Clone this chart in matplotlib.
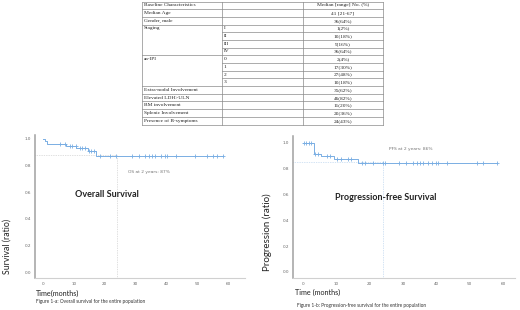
import matplotlib.pyplot as plt
import numpy as np

W, H = 520, 310

# baseline table
char_col = ["Baseline Characteristics", "Median Age", "Gender, male", "Staging", "", "", "",
            "aa-IPI", "", "", "", "Extra-nodal Involvement", "Elevated LDH>ULN",
            "BM involvement", "Splenic Involvement", "Presence of B-symptoms"]
sub_col = ["", "", "", "I", "II", "III", "IV", "0", "1", "2", "3", "", "", "", "", ""]
val_col = ["Median [range] No. (%)", "41 [21-67]", "36(64%)", "1(2%)", "10(18%)", "9(16%)",
           "36(64%)", "2(4%)", "17(30%)", "27(48%)", "10(18%)", "35(62%)", "46(82%)",
           "11(20%)", "20(36%)", "24(43%)"]

# overall survival: step times (months) and survival ratio, censored times
os_time = [0, 0.5, 1.2, 7.6, 10.8, 14.5, 17.3]
os_surv = [1.0, 0.982, 0.964, 0.946, 0.929, 0.911, 0.874]
os_cens = [5.4, 7.0, 8.6, 9.5, 10.6, 11.9, 12.8, 13.5, 14.9, 15.7, 16.4, 18.4, 21.6, 23.8,
           29.0, 31.1, 33.0, 34.4, 35.5, 36.2, 38.4, 39.5, 40.2, 43.2, 49.2, 53.2, 55.1,
           56.4, 58.4]
os_2yr = 0.877

# progression-free survival
pfs_time = [0, 3.3, 5.5, 9.2, 16.5]
pfs_surv = [1.0, 0.918, 0.898, 0.872, 0.846]
pfs_cens = [0.3, 1.0, 1.7, 2.3, 3.5, 4.5, 7.3, 8.0, 10.2, 11.5, 13.5, 14.5, 17.6, 18.6,
            21.1, 23.9, 24.6, 28.9, 30.9, 32.9, 34.1, 35.1, 36.1, 37.6, 38.6, 39.8, 40.4,
            43.1, 52.2, 54.0, 58.2]
pfs_2yr = 0.853

BLUE = "#7aaee3"

fig = plt.figure(figsize=(W / 100, H / 100), dpi=100)


def px_axes(l, t, r, b):
    return fig.add_axes([l / W, 1 - b / H, (r - l) / W, (b - t) / H])


def km(ax, times, surv, cens, mark, xlim, ylim, mark_color):
    times = np.array(times)
    surv = np.array(surv)
    cens = np.array(cens)
    end = cens.max()
    ax.step(np.append(times, end), np.append(surv, surv[-1]), where="post",
            color=BLUE, lw=0.7, zorder=3)
    idx = np.searchsorted(times, cens, side="right") - 1
    ax.plot(cens, surv[idx], "+", color=BLUE, ms=2.6, mew=0.6, zorder=4)
    ax.plot([xlim[0], 24], [mark, mark], ls=(0, (1, 1.5)), color=mark_color, lw=0.5)
    ax.plot([24, 24], [ylim[0], mark], ls=(0, (1, 1.5)), color=mark_color, lw=0.5)
    ax.set_xlim(*xlim)
    ax.set_ylim(*ylim)
    ax.set_xticks(range(0, 61, 10))
    ax.set_yticks([0, 0.2, 0.4, 0.6, 0.8, 1.0])
    ax.set_yticklabels(["0.0", "0.2", "0.4", "0.6", "0.8", "1.0"])
    ax.tick_params(length=0, labelsize=3, colors="#666", pad=3)
    ax.spines["top"].set_visible(False)
    ax.spines["right"].set_visible(False)
    ax.spines["left"].set_color("#a0a0a0")
    ax.spines["left"].set_linewidth(1.1)
    ax.spines["bottom"].set_color("#d0d0d0")
    ax.spines["bottom"].set_linewidth(0.8)
    ax.patch.set_alpha(0)


# left plot: overall survival
ax1 = px_axes(35, 135, 245, 278)
km(ax1, os_time, os_surv, os_cens, os_2yr, (-2.6, 65.5), (-0.045, 1.03), "#c0c0c0")
ax1.text(27.6, 0.75, "OS at 2 years: 87%", fontsize=3.2, color="#777", va="center")
ax1.text(10.4, 0.586, "Overall Survival", fontsize=6.5, fontweight="bold",
         family="Lato", color="#222", va="center")

# right plot: progression-free survival
ax2 = px_axes(293, 136, 515, 278)
km(ax2, pfs_time, pfs_surv, pfs_cens, pfs_2yr, (-3.0, 63.6), (-0.047, 1.054), "#a8c8ea")
ax2.text(25.8, 0.953, "PFS at 2 years: 86%", fontsize=3.2, color="#777", va="center")
ax2.text(9.6, 0.58, "Progression-free Survival", fontsize=6.5, fontweight="bold",
         family="Lato", color="#222", va="center")

# overlay in pixel coordinates for the table and labels
ov = fig.add_axes([0, 0, 1, 1])
ov.set_xlim(0, W)
ov.set_ylim(H, 0)
ov.axis("off")
ov.patch.set_alpha(0)

cols = [142, 222, 303, 383]
top, bot = 1.5, 124.5
n = len(char_col)
rh = (bot - top) / n
lc = "#8a8a8a"
for i in range(n + 1):
    y = top + i * rh
    if i == 0 or i == n or char_col[i] != "":
        ov.plot([cols[0], cols[3]], [y, y], color=lc, lw=0.5)
    else:
        ov.plot([cols[1], cols[3]], [y, y], color=lc, lw=0.5)
for x in cols:
    ov.plot([x, x], [top, bot], color=lc, lw=0.5)
for i in range(n):
    yc = top + (i + 0.5) * rh
    ov.text(cols[0] + 1.5, yc, char_col[i], fontsize=3.9, family="Liberation Serif",
            va="center", ha="left", color="#222")
    ov.text(cols[1] + 1.5, yc, sub_col[i], fontsize=3.9, family="Liberation Serif",
            va="center", ha="left", color="#222")
    ov.text((cols[2] + cols[3]) / 2, yc, val_col[i], fontsize=3.9,
            family="Liberation Serif", va="center", ha="center", color="#222")

ov.text(7, 246, "Survival (ratio)", rotation=90, fontsize=6.3, family="Lato",
        va="center", ha="center", color="#222")
ov.text(267, 232, "Progression (ratio)", rotation=90, fontsize=7, family="Lato",
        va="center", ha="center", color="#222")
ov.text(36, 293, "Time(months)", fontsize=5.2, family="Lato", va="center", color="#222")
ov.text(295, 292, "Time (months)", fontsize=5.2, family="Lato", va="center", color="#222")
ov.text(36, 302, "Figure 1-a: Overall survival for the entire population", fontsize=3.4,
        family="Lato", va="center", color="#333")
ov.text(297, 306, "Figure 1-b: Progression-free survival for the entire population",
        fontsize=3.4, family="Lato", va="center", color="#333")

fig.savefig("out.png", dpi=100)
